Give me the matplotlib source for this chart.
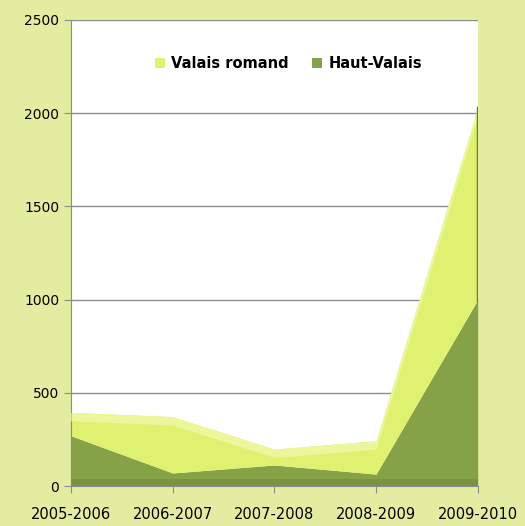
import matplotlib.pyplot as plt
import numpy as np

seasons = ["2005-2006", "2006-2007", "2007-2008", "2008-2009", "2009-2010"]
haut_valais = [270, 70, 113, 64, 1000]
valais_romand = [125, 302, 85, 179, 1030]

bg = "#e3eda2"
dark = "#86a247"
light = "#def170"

fig = plt.figure(figsize=(5.25, 5.26), dpi=100, facecolor=bg)
ax = fig.add_axes([0.135, 0.076, 0.775, 0.886])
ax.set_facecolor("white")

x = np.arange(len(seasons))
hv = np.array(haut_valais)
total = hv + np.array(valais_romand)

# stacked areas
ax.fill_between(x, 0, hv, color=dark, lw=0, zorder=2, label="Haut-Valais")
ax.fill_between(x, hv, total, color=light, lw=0, zorder=2, label="Valais romand")
# a bit of the old 3d look: light top band and dark floor
ax.fill_between(x, total - 45, total, color="#ecf69a", lw=0, zorder=3)
ax.axhspan(0, 40, color="#7a9340", lw=0, zorder=4)
ax.plot([4, 4], [hv[-1], total[-1]], color="#6b7d2c", lw=2.5, zorder=5)

ax.set_xlim(0, 4)
ax.set_ylim(0, 2500)
ax.set_yticks(range(0, 2501, 500))
ax.set_xticks(x)
ax.set_xticklabels(seasons, fontsize=10.5)
ax.grid(axis="y", color="#8c8c8c", lw=1, zorder=1)
ax.set_axisbelow(True)

for s in ["top", "right"]:
    ax.spines[s].set_visible(False)
for s in ["left", "bottom"]:
    ax.spines[s].set_color("#8c8c8c")
ax.tick_params(colors="#8c8c8c", labelcolor="black", length=5)
ax.tick_params(axis="y", labelsize=10)
ax.tick_params(axis="x", pad=10)

handles, labels = ax.get_legend_handles_labels()
leg = ax.legend(handles[::-1], labels[::-1], loc="upper center", bbox_to_anchor=(0.535, 0.95),
                ncol=2, frameon=False, handlelength=0.7, handleheight=0.7,
                handletextpad=0.4, columnspacing=1.6,
                prop={"weight": "bold", "size": 10.5})

fig.savefig("out.png", dpi=100, facecolor=bg)
